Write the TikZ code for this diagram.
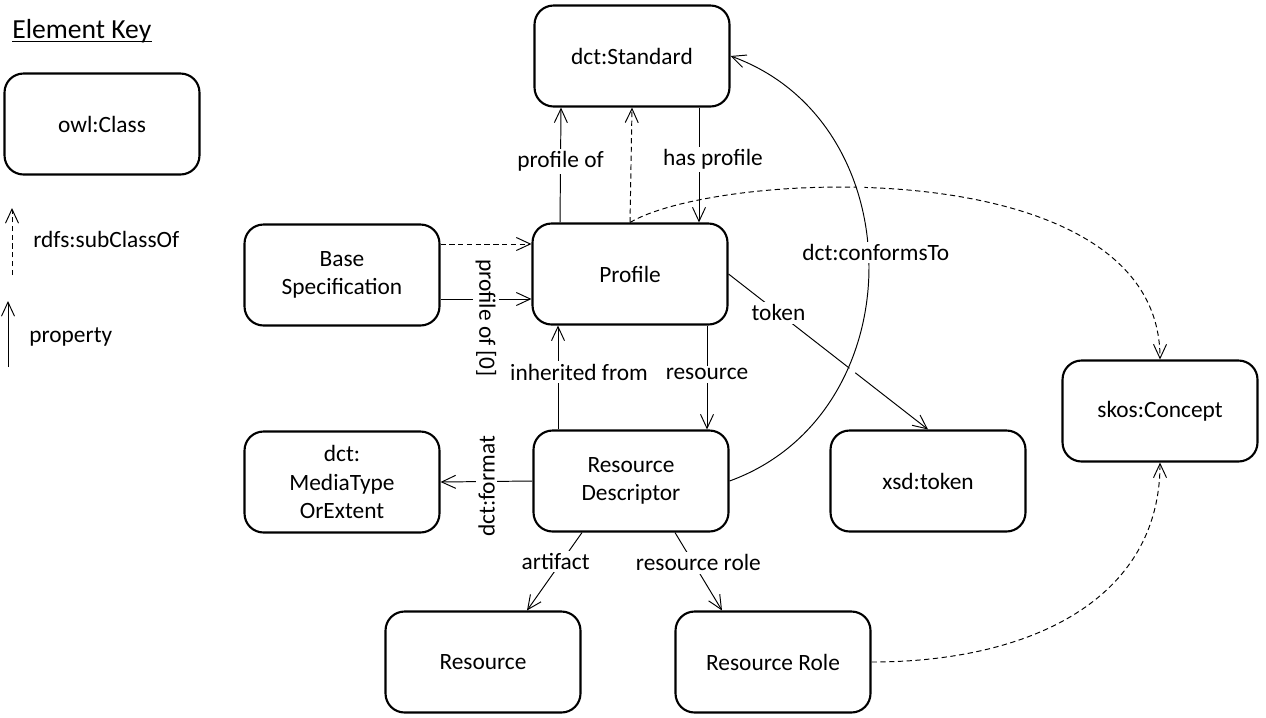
\documentclass[tikz,border=0pt]{standalone}
\usepackage{fontspec}
\setmainfont{Carlito}
\usetikzlibrary{arrows.meta, positioning, calc}

\newcommand{\diafont}{\fontsize{13.3}{16.3}\selectfont}

\tikzset{
  cls/.style={draw, line width=1.2pt, rounded corners=0.38cm,
    minimum width=3.9cm, minimum height=2.02cm, align=center, font=\diafont},
  prop/.style={-{Straight Barb[length=2.8mm, width=2.6mm]}, line width=0.55pt},
  subcls/.style={prop, dash pattern=on 3pt off 2pt},
  lbl/.style={fill=white, inner sep=1.5pt, font=\diafont},
}

\begin{document}
\begin{tikzpicture}[x=0.02cm, y=-0.02cm]
    \useasboundingbox (0,0) rectangle (1266,717);

    % Element key
    \node[inner sep=0, anchor=base west, font=\fontsize{15.7}{19}\selectfont] (key) at (12,38) {Element Key};
    \draw[line width=0.7pt] ($(key.base west)+(0,3.5)$) -- ($(key.base east)+(0,3.5)$);
    \node[cls] (owl) at (102,124) {owl:Class};

    \coordinate (ksubA) at (12,275);
    \coordinate (ksubB) at (12,208);
    \draw[subcls] (ksubA) -- (ksubB);
    \node[inner sep=0, anchor=base west, font=\diafont] (ksub) at (33,247) {rdfs:subClassOf};

    \coordinate (kpropA) at (8,367);
    \coordinate (kpropB) at (8,301);
    \draw[prop] (kpropA) -- (kpropB);
    \node[inner sep=0, anchor=base west, font=\diafont] (kprop) at (29,342) {property};

    % Classes
    \node[cls] (std) at (632,56) {dct:Standard};
    \node[cls] (prof) at (630,274) {Profile};
    \node[cls] (base) at (342,275) {Base\\Specification};
    \node[cls] (rd) at (631,481) {Resource\\Descriptor};
    \node[cls] (media) at (342,482) {dct:\\MediaType\\OrExtent};
    \node[cls] (tok) at (928,481) {xsd:token};
    \node[cls] (skos) at (1160,411) {skos:Concept};
    \node[cls] (res) at (483,662) {Resource};
    \node[cls] (role) at (773,662) {Resource Role};

    % Properties
    \draw[prop] ($(prof.north)+(-70,0)$) -- node[lbl, pos=0.53] {profile of} ($(std.south)+(-71,0)$);
    \draw[subcls] (prof.north) -- (std.south);
    \draw[prop] ($(std.south)+(67,0)$) -- node[lbl, pos=0.45, xshift=0.28cm] {has profile} ($(prof.north)+(69,0)$);

    \draw[subcls] ($(base.east)+(0,-31)$) -- ($(prof.west)+(0,-30)$);
    \draw[prop] ($(base.east)+(0,24)$) -- node[lbl, yshift=-0.38cm, rotate=-90] {profile of [0]} ($(prof.west)+(0,25)$);

    \draw[prop] ($(rd.north)+(-73,0)$) -- node[lbl, pos=0.55, xshift=0.42cm] {inherited from} ($(prof.south)+(-72,0)$);
    \draw[prop] ($(prof.south)+(77,0)$) -- node[lbl, pos=0.47] {resource} ($(rd.north)+(76,0)$);

    \draw[prop] (rd.west) -- node[lbl, yshift=-0.1cm, rotate=90] {dct:format} (media.east);
    \draw[prop] (prof.east) -- node[lbl, pos=0.25] {token} (tok.north);

    \draw[prop] ($(rd.south)+(-49,0)$) -- node[lbl, pos=0.37, xshift=-0.12cm] {artifact} ($(res.north)+(44,0)$);
    \draw[prop] ($(rd.south)+(44,0)$) -- node[lbl, pos=0.39, xshift=0.1cm] {resource role} ($(role.north)+(-51,0)$);

    % Subclass curves to skos:Concept
    \draw[subcls] (prof.north) .. controls +(90,-53) and +(0,-210) .. (skos.north);
    \draw[subcls] (role.east) .. controls +(160,0) and +(0,136) .. (skos.south);

    \draw[prop, preaction={draw=white, line width=4pt, -, shorten <=10pt, shorten >=10pt}]
        (rd.east) .. controls +(185,-67) and +(185,67) .. node[lbl, pos=0.53, xshift=0.15cm] {dct:conformsTo} (std.east);
\end{tikzpicture}
\end{document}
